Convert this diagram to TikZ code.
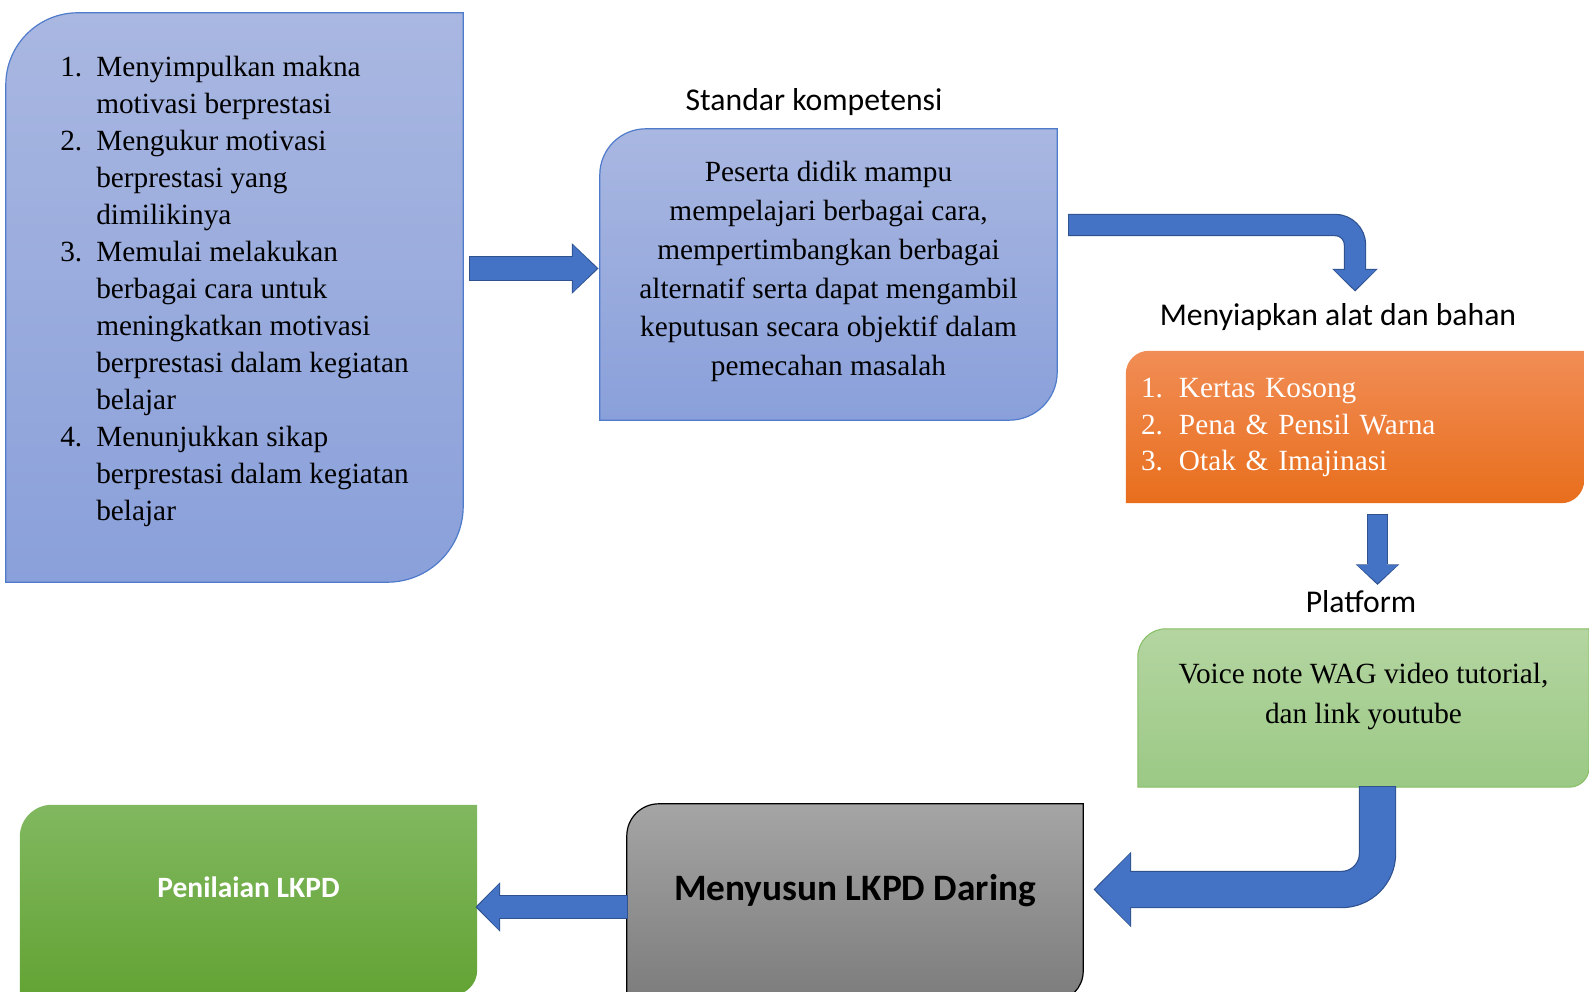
\documentclass[tikz,border=0pt]{standalone}
\usepackage{fontspec}
\setmainfont{Liberation Serif}
\newfontfamily\calibri{Carlito}
\usetikzlibrary{arrows.meta,positioning,backgrounds}

\definecolor{blueT}{HTML}{A9B7E1}
\definecolor{blueB}{HTML}{8AA0DA}
\definecolor{blueedge}{HTML}{4F7BCB}
\definecolor{arrowblue}{HTML}{4472C4}
\definecolor{arrowedge}{HTML}{2F528F}
\definecolor{orangeT}{HTML}{F18D56}
\definecolor{orangeB}{HTML}{E86E1C}
\definecolor{lgreenT}{HTML}{B4D5A1}
\definecolor{lgreenB}{HTML}{9BC985}
\definecolor{lgreenedge}{HTML}{86BE64}
\definecolor{greyT}{HTML}{A5A5A5}
\definecolor{greyB}{HTML}{7C7C7C}
\definecolor{dgreenT}{HTML}{81B860}
\definecolor{dgreenB}{HTML}{63A334}

\tikzset{
  box/.style={inner sep=0pt},
  body/.style={font=\fontsize{29.3}{37}\selectfont},
  lbl/.style={inner sep=0pt, font=\calibri\fontsize{31.7}{38}\selectfont},
  % box with round top-left and bottom-right corners
  leaf/.style n args={3}{insert path={(#1.south west) -- ([yshift=-#2]#1.north west)
      arc[start angle=180, end angle=90, radius=#2] -- (#1.north east)
      -- ([yshift=#3]#1.south east) arc[start angle=0, end angle=-90, radius=#3] -- cycle}},
  bluebox/.style={draw=blueedge, line width=1.2pt, top color=blueT, bottom color=blueB},
  orangebox/.style={top color=orangeT, bottom color=orangeB},
  lgreenbox/.style={draw=lgreenedge, line width=1pt, top color=lgreenT, bottom color=lgreenB},
  greybox/.style={draw=black, line width=1.2pt, top color=greyT, bottom color=greyB},
  dgreenbox/.style={top color=dgreenT, bottom color=dgreenB},
  % block arrow: shaft width, head width, head length
  fat/.code n args={3}{%
    \pgfmathsetlengthmacro\fatlw{#1+2.4pt}%
    \pgfmathsetlengthmacro\fatW{#2+3.6pt}%
    \pgfmathsetlengthmacro\fatL{#3+2.6pt}%
    \tikzset{draw=arrowblue, line width=#1, -{Triangle[width=#2, length=#3, line width=0pt]},
      preaction={draw=arrowedge, line width=\fatlw,
        -{Triangle[width=\fatW, length=\fatL, line width=0pt]},
        shorten >=-1.7pt, shorten <=-1.2pt}}}
}

\begin{document}
\begin{tikzpicture}[x=1pt, y=1pt]
  \useasboundingbox (0,0) rectangle (1589,991);

  \node[box, body, text height=26pt, text depth=467pt,
        minimum width=457pt, minimum height=569pt] (mk) at (234.5,693.5) {%
    \begin{tabular}[t]{@{}l@{\hspace{14pt}}l@{}}
      1. & Menyimpulkan makna\\
         & motivasi berprestasi\\
      2. & Mengukur motivasi\\
         & berprestasi yang\\
         & dimilikinya\\
      3. & Memulai melakukan\\
         & berbagai cara untuk\\
         & meningkatkan motivasi\\
         & berprestasi dalam kegiatan\\
         & belajar\\
      4. & Menunjukkan sikap\\
         & berprestasi dalam kegiatan\\
         & belajar
    \end{tabular}};

  \node[box, align=center, font=\fontsize{29.3}{38.7}\selectfont, text height=213.5pt, text depth=11.5pt,
        minimum width=457pt, minimum height=291pt] (sk) at (828.5,716.5)
    {Peserta didik mampu\\ mempelajari berbagai cara,\\ mempertimbangkan berbagai\\
     alternatif serta dapat mengambil\\ keputusan secara objektif dalam\\ pemecahan masalah};
  \node[lbl, above=13pt of sk, xshift=-14.5pt] (sklbl) {Standar kompetensi};

  \node[box, text=white, font=\fontsize{29.3}{36.5}\selectfont, inner xsep=15pt,
        text width=428pt, minimum height=152pt] (alat) at (1355,564) {%
    \begin{tabular}{@{}l@{\hspace{16pt}}l@{}}
      1. & Kertas Kosong\\
      2. & Pena \& Pensil Warna\\
      3. & Otak \& Imajinasi
    \end{tabular}};
  \node[lbl, above=20pt of alat, xshift=-17pt] (alatlbl) {Menyiapkan alat dan bahan};

  \node[box, align=center, font=\fontsize{29.3}{39.5}\selectfont, text height=60pt, text depth=29pt,
        minimum width=451pt, minimum height=158pt] (plat) at (1363.5,283)
    {Voice note WAG video tutorial,\\ dan link youtube};
  \node[lbl, above=16pt of plat, xshift=-2.5pt] (platlbl) {Platform};

  \node[box, font=\calibri\bfseries\fontsize{37.3}{44}\selectfont, text height=24pt, text depth=28pt,
        minimum width=456pt, minimum height=197pt] (lkpd) at (855,88.5) {Menyusun LKPD Daring};

  \node[box, text=white, font=\calibri\bfseries\fontsize{29.5}{36}\selectfont, text height=19pt,
        text depth=24pt, minimum width=457pt, minimum height=190pt] (nilai) at (248.5,91) {Penilaian LKPD};

  \begin{scope}[on background layer]
    \path[bluebox] [leaf={mk}{72pt}{76pt}];
    \path[bluebox] [leaf={sk}{46pt}{48pt}];
    \path[orangebox] [leaf={alat}{23pt}{23pt}];
    \path[lgreenbox] [leaf={plat}{28pt}{20pt}];
    \path[greybox] [leaf={lkpd}{32pt}{30pt}];
    \path[dgreenbox] [leaf={nilai}{32pt}{25pt}];
  \end{scope}

  % block arrows
  \draw[fat={23pt}{47pt}{24pt}] ([shift={(7pt,29pt)}]mk.east) -- ([shift={(-3pt,6pt)}]sk.west);
  \draw[fat={20pt}{42pt}{20pt}, rounded corners=20pt] ([shift={(12pt,49.5pt)}]sk.east) -| ([yshift=61pt]alat.north);
  \draw[fat={19pt}{40pt}{18pt}] ([shift={(22.5pt,-12pt)}]alat.south) -- ([shift={(22.5pt,-80pt)}]alat.south);
  \draw[fat={35pt}{72pt}{35pt}, rounded corners=36pt] ([xshift=14pt]plat.south) |- ([shift={(12pt,13pt)}]lkpd.east);
  \draw[fat={22pt}{46pt}{22pt}] ([yshift=-4.5pt]lkpd.west) -- ([yshift=-7pt]nilai.east);
\end{tikzpicture}
\end{document}
